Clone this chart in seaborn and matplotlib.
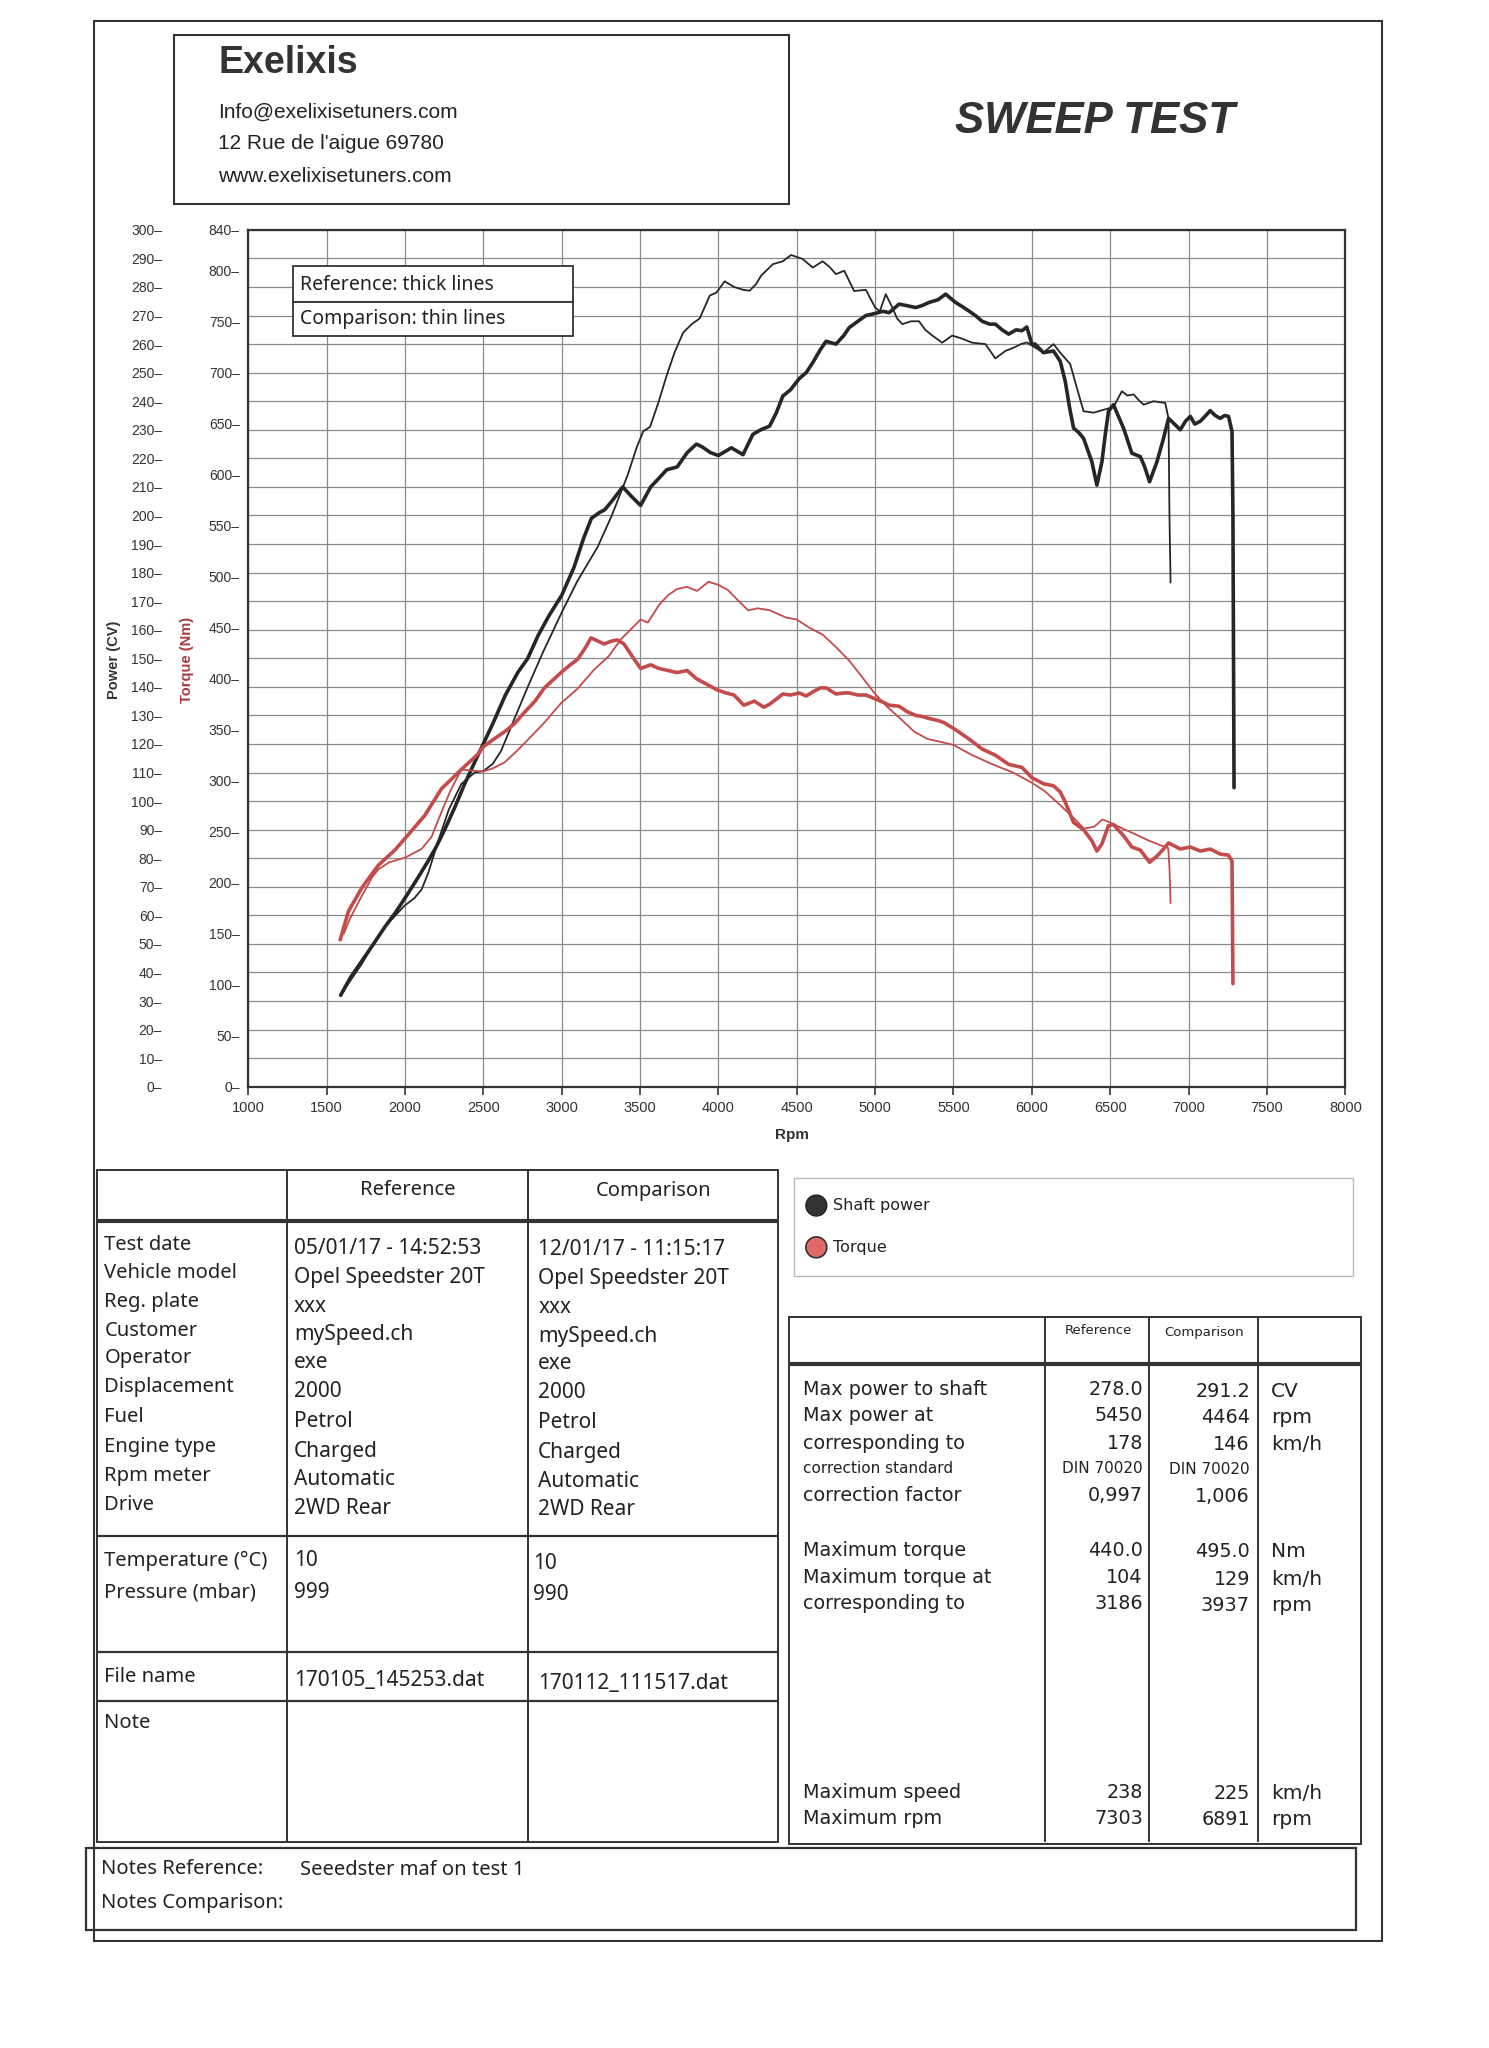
import matplotlib
matplotlib.use("Agg")
import matplotlib.pyplot as plt
from matplotlib.patches import Rectangle, Circle
import seaborn as sns

# ---- curves: rpm / value ----
ref_power_rpm = [1590, 1650, 1725, 1800, 1873, 1940, 2000, 2070, 2148, 2200, 2254, 2320, 2381, 2440, 2500,
                 2560, 2640, 2720, 2784, 2850, 2920, 3000, 3080, 3140, 3190, 3240, 3275, 3320, 3390, 3440,
                 3504, 3568, 3620, 3670, 3737, 3801, 3860, 3897, 3950, 4000, 4083, 4157, 4220, 4270, 4327,
                 4370, 4411, 4460, 4517, 4560, 4602, 4650, 4687, 4750, 4800, 4835, 4890, 4941, 5004, 5050,
                 5089, 5153, 5200, 5259, 5300, 5344, 5400, 5450, 5513, 5560, 5598, 5640, 5683, 5730, 5767,
                 5810, 5852, 5900, 5937, 5968, 6000, 6021, 6074, 6138, 6181, 6213, 6240, 6266, 6300, 6330,
                 6383, 6415, 6447, 6470, 6489, 6521, 6550, 6585, 6638, 6692, 6720, 6751, 6798, 6840, 6872,
                 6910, 6947, 6980, 7011, 7040, 7075, 7110, 7138, 7170, 7202, 7230, 7255, 7277, 7283, 7290]
ref_power_cv = [32, 38, 44, 50, 56, 61, 66, 72, 79, 84, 90, 98, 106, 113, 120,
                127, 137, 145, 150, 158, 165, 172, 182, 192, 199, 201, 202, 205, 210, 207,
                203.5, 210, 213, 216, 217, 222, 225, 224, 222, 221, 223.7, 221.3, 228.4, 230, 231.3,
                236, 241.8, 244, 248, 250, 253.5, 258, 261, 260, 263, 265.8, 268, 270, 270.8, 271.5,
                271, 274, 273.5, 272.8, 273.5, 274.6, 275.5, 277.5, 274.6, 273, 271.6, 270, 268, 267, 267,
                265, 263.5, 265, 264.7, 266, 260, 260, 257, 257.6, 254, 247, 238, 230.6, 229, 227,
                218.8, 210.6, 218.8, 229, 236.5, 238.8, 235, 230.6, 221.8, 220.6, 217, 211.8, 218.8, 227, 234,
                232, 230, 233, 234.7, 232, 233, 235, 236.7, 235, 234, 235, 234.7, 229.4, 200, 104.7]

cmp_power_rpm = [1590, 1650, 1725, 1800, 1873, 1940, 2000, 2060, 2106, 2150, 2212, 2280, 2360, 2445, 2500,
                 2560, 2614, 2700, 2784, 2880, 3000, 3100, 3230, 3320, 3420, 3480, 3521, 3564, 3620, 3670,
                 3720, 3775, 3830, 3881, 3945, 3987, 4040, 4100, 4160, 4199, 4240, 4273, 4348, 4411, 4464,
                 4538, 4602, 4665, 4710, 4750, 4803, 4866, 4941, 5000, 5030, 5068, 5090, 5110, 5140, 5174,
                 5230, 5280, 5320, 5365, 5428, 5492, 5550, 5619, 5704, 5767, 5831, 5894, 5930, 5968, 6021,
                 6074, 6138, 6181, 6245, 6287, 6330, 6394, 6457, 6521, 6574, 6610, 6649, 6680, 6713, 6777,
                 6851, 6872, 6878, 6885]
cmp_power_cv = [32, 37, 43, 50, 56, 60, 63.5, 66, 69, 75, 86, 97, 106, 110, 110.5,
                113, 117.6, 129, 140, 152, 166, 177, 189, 200, 214, 224, 229.5, 231, 240, 249,
                257, 264, 267, 269, 277, 278, 282, 280, 279, 278.7, 281, 284, 288, 289, 291.2,
                289.8, 286.8, 289, 287, 284.5, 285.7, 278.6, 279, 272.8, 271.5, 277.5, 275, 272.8, 269, 267,
                268, 268, 265, 263, 260.5, 263, 262, 260.5, 260, 255, 257.6, 259, 260, 260.6, 258.8,
                257, 260, 257, 253, 244.7, 236.5, 236, 237, 238, 243.5, 242, 242.4, 240.5, 238.8, 240,
                239.4, 234, 200, 176.5]

ref_torque_rpm = [1587, 1640, 1725, 1830, 1936, 2021, 2127, 2233, 2300, 2360, 2466, 2498, 2560, 2636, 2700,
                  2763, 2830, 2890, 2940, 2996, 3050, 3102, 3150, 3187, 3230, 3271, 3320, 3356, 3398, 3450,
                  3504, 3568, 3620, 3680, 3737, 3801, 3860, 3920, 3992, 4050, 4100, 4162, 4230, 4290, 4327,
                  4370, 4411, 4460, 4517, 4560, 4602, 4650, 4687, 4750, 4800, 4835, 4890, 4941, 5004, 5050,
                  5089, 5153, 5200, 5259, 5300, 5344, 5400, 5439, 5513, 5598, 5683, 5767, 5852, 5937, 6000,
                  6074, 6138, 6181, 6213, 6266, 6330, 6383, 6415, 6447, 6489, 6521, 6585, 6638, 6692, 6751,
                  6798, 6840, 6872, 6947, 7011, 7075, 7138, 7202, 7255, 7277, 7283]
ref_torque_nm = [144, 172, 195, 217, 232, 247, 266, 292, 302, 311, 326, 333, 340, 348, 356,
                 367, 378, 391, 398, 406, 413, 419, 430, 440, 437, 434, 437, 438, 434, 422,
                 410, 413.6, 410, 408, 406, 408, 400, 395, 389, 386, 384, 374, 378, 372, 375,
                 380, 385, 384, 386, 383, 387, 391, 391, 385, 386, 386, 384, 384, 380, 377,
                 374, 373, 368, 364, 363, 361, 359, 357, 350, 341, 331, 325, 316, 313, 303,
                 297, 295, 289, 279, 259, 252, 241, 231, 238, 256, 257, 246, 235, 232, 220,
                 226, 233, 239, 233, 235, 231, 233, 228, 227, 221, 101]

cmp_torque_rpm = [1610, 1650, 1725, 1790, 1830, 1900, 2000, 2106, 2170, 2230, 2290, 2360, 2420, 2498, 2560,
                  2636, 2700, 2784, 2890, 2996, 3100, 3208, 3300, 3380, 3420, 3504, 3550, 3620, 3680, 3737,
                  3800, 3864, 3937, 4000, 4060, 4130, 4190, 4250, 4330, 4430, 4500, 4580, 4667, 4750, 4833,
                  4900, 5000, 5080, 5167, 5250, 5333, 5420, 5500, 5620, 5750, 5880, 6000, 6080, 6167, 6250,
                  6333, 6400, 6450, 6500, 6580, 6667, 6750, 6833, 6870, 6878, 6885]
cmp_torque_nm = [150, 165, 187, 205, 213, 220, 224.5, 233, 245, 268, 290, 311, 310, 309, 312,
                 318, 327, 340, 357, 376, 390, 409, 422, 439, 445, 458, 455, 472, 482, 488,
                 490, 486, 495, 492, 487, 476, 467, 469, 467, 460, 458, 450, 443, 431, 418,
                 405, 385, 372, 360, 348, 341, 338, 335, 325, 316, 308, 298, 290, 278, 266,
                 253, 255, 262, 259, 253, 247, 241, 236, 234, 215, 180]

rpm_ticks = list(range(1000, 8001, 500))
power_ticks = list(range(0, 301, 10))
torque_ticks = list(range(0, 801, 50)) + [840]

# ---- sheet texts ----
info_labels = ["Test date", "Vehicle model", "Reg. plate", "Customer", "Operator", "Displacement",
               "Fuel", "Engine type", "Rpm meter", "Drive"]
info_ref = ["05/01/17 - 14:52:53", "Opel Speedster 20T", "xxx", "mySpeed.ch", "exe", "2000",
            "Petrol", "Charged", "Automatic", "2WD Rear"]
info_cmp = ["12/01/17 - 11:15:17", "Opel Speedster 20T", "xxx", "mySpeed.ch", "exe", "2000",
            "Petrol", "Charged", "Automatic", "2WD Rear"]
env_labels = ["Temperature (°C)", "Pressure (mbar)"]
env_ref = ["10", "999"]
env_cmp = ["10", "990"]
file_ref, file_cmp = "170105_145253.dat", "170112_111517.dat"

res_labels = ["Max power to shaft", "Max power at", "corresponding to", "correction standard",
              "correction factor", "Maximum torque", "Maximum torque at", "corresponding to",
              "Maximum speed", "Maximum rpm"]
res_ref = ["278.0", "5450", "178", "DIN 70020", "0,997", "440.0", "104", "3186", "238", "7303"]
res_cmp = ["291.2", "4464", "146", "DIN 70020", "1,006", "495.0", "129", "3937", "225", "6891"]
res_units = ["CV", "rpm", "km/h", "", "", "Nm", "km/h", "rpm", "km/h", "rpm"]
res_y = [1064, 1084, 1105, 1124, 1145, 1187, 1208, 1228, 1372, 1392]

BLACK = "#262626"
RED = "#c44b4b"
GRID = "#8a8a8a"
INK = "#222222"

sns.set_style("white")
plt.rcParams['font.family'] = ['Liberation Sans', 'DejaVu Sans']

W, H = 1140, 1568   # page layout grid
fig = plt.figure(figsize=(14.89, 20.48), dpi=100)


def box(x0, y0, x1, y1):
    return [x0 / W, 1 - y1 / H, (x1 - x0) / W, (y1 - y0) / H]


# ---- chart ----
ax = fig.add_axes(box(190, 176, 1030, 832))
ax.set_xlim(1000, 8000)
ax.set_ylim(0, 300)
ax.set_xticks(rpm_ticks)
ax.set_yticks(power_ticks)
ax.set_yticklabels([f"{v}\u2013" for v in power_ticks])
ax.grid(True, color=GRID, linewidth=0.9)
ax.set_axisbelow(True)
ax.tick_params(axis='y', length=0, pad=62, labelsize=10, labelcolor="#333333")
ax.tick_params(axis='x', length=6, width=1.2, direction='out', pad=4, labelsize=10.5,
               labelcolor="#333333", color="#333333", bottom=True)
for s in ax.spines.values():
    s.set_color("#333333")
    s.set_linewidth(1.6)

sns.lineplot(x=cmp_power_rpm, y=cmp_power_cv, ax=ax, color=BLACK, linewidth=1.3,
             sort=False, estimator=None)
sns.lineplot(x=ref_power_rpm, y=ref_power_cv, ax=ax, color=BLACK, linewidth=2.6,
             sort=False, estimator=None)

ax2 = ax.twinx()
ax2.set_ylim(0, 840)
ax2.yaxis.tick_left()
ax2.set_yticks(torque_ticks)
ax2.set_yticklabels([f"{v}\u2013" for v in torque_ticks])
ax2.tick_params(axis='y', length=0, pad=6, labelsize=10, labelcolor="#333333")
ax2.grid(False)
for s in ax2.spines.values():
    s.set_visible(False)

sns.lineplot(x=cmp_torque_rpm, y=cmp_torque_nm, ax=ax2, color=RED, linewidth=1.3,
             sort=False, estimator=None)
sns.lineplot(x=ref_torque_rpm, y=ref_torque_nm, ax=ax2, color=RED, linewidth=2.6,
             sort=False, estimator=None)
ax.set_xlabel("")
ax.set_ylabel("")
ax2.set_ylabel("")

# ---- page overlay ----
pg = fig.add_axes([0, 0, 1, 1], zorder=5)
pg.set_xlim(0, W)
pg.set_ylim(H, 0)
pg.axis('off')


def rect(x0, y0, x1, y1, lw=1.4, ec="#333333", fc="none"):
    pg.add_patch(Rectangle((x0, y0), x1 - x0, y1 - y0, fill=(fc != "none"), facecolor=fc,
                           edgecolor=ec, linewidth=lw))


def hline(y, x0, x1, lw=1.4, c="#333333"):
    pg.plot([x0, x1], [y, y], color=c, linewidth=lw, solid_capstyle='butt')


def vline(x, y0, y1, lw=1.4, c="#333333"):
    pg.plot([x, x], [y0, y1], color=c, linewidth=lw, solid_capstyle='butt')


# page border and header
rect(72, 16, 1058, 1486, lw=1.5)
rect(133, 27, 604, 156, lw=1.5)
pg.text(167, 48, "Exelixis", fontsize=27, fontweight='bold', color="#333333", va='center')
pg.text(167, 86, "Info@exelixisetuners.com", fontsize=15, color=INK, va='center')
pg.text(167, 110, "12 Rue de l'aigue 69780", fontsize=15, color=INK, va='center')
pg.text(167, 135, "www.exelixisetuners.com", fontsize=15, color=INK, va='center')
pg.text(838, 93, "SWEEP TEST", fontsize=31.5, fontweight='bold', fontstyle='italic',
        color="#333333", ha='center', va='center')

# axis titles
pg.text(87, 505, "Power (CV)", rotation=90, fontsize=10.5, fontweight='bold', color="#333333",
        ha='center', va='center')
pg.text(143, 505, "Torque (Nm)", rotation=90, fontsize=10.5, fontweight='bold', color="#a83a3a",
        ha='center', va='center')
pg.text(606, 869, "Rpm", fontsize=11, fontweight='bold', color="#333333", ha='center', va='center')

# line style legend in chart
TAB = ['Noto Sans', 'DejaVu Sans']
rect(224, 204, 439, 231, lw=1.3, fc="white")
rect(224, 231, 439, 257, lw=1.3, fc="white")
pg.text(230, 218, "Reference: thick lines", fontsize=14, family=TAB, va='center', color=INK)
pg.text(230, 244, "Comparison: thin lines", fontsize=14, family=TAB, va='center', color=INK)

# ---- left info table ----
rect(74, 896, 596, 1410, lw=1.4)
hline(935, 74, 596, lw=3.0)
vline(220, 896, 1410)
vline(404, 896, 1410)
hline(1176, 74, 596, lw=1.6)
hline(1265, 74, 596, lw=1.6)
hline(1302, 74, 596, lw=1.6)
pg.text(312, 911, "Reference", fontsize=14.5, family=TAB, ha='center', va='center', color=INK)
pg.text(500, 912, "Comparison", fontsize=14.5, family=TAB, ha='center', va='center', color=INK)
row_y = [953, 975, 997, 1019, 1040, 1062, 1085, 1108, 1130, 1152]
for y, lab, r, c in zip(row_y, info_labels, info_ref, info_cmp):
    pg.text(80, y, lab, fontsize=14.5, family=TAB, va='center', color=INK)
    pg.text(225, y + 3, r, fontsize=15, family=TAB, va='center', color=INK)
    pg.text(412, y + 4, c, fontsize=15, family=TAB, va='center', color=INK)
for y, lab, r, c in zip([1195, 1219], env_labels, env_ref, env_cmp):
    pg.text(80, y, lab, fontsize=14.5, family=TAB, va='center', color=INK)
    pg.text(225, y, r, fontsize=15, family=TAB, va='center', color=INK)
    pg.text(408, y + 2, c, fontsize=15, family=TAB, va='center', color=INK)
pg.text(80, 1284, "File name", fontsize=14.5, family=TAB, va='center', color=INK)
pg.text(225, 1287, file_ref, fontsize=15, family=TAB, va='center', color=INK)
pg.text(412, 1289, file_cmp, fontsize=15, family=TAB, va='center', color=INK)
pg.text(80, 1319, "Note", fontsize=14.5, family=TAB, va='center', color=INK)

# ---- colour legend ----
rect(608, 902, 1036, 977, lw=1.0, ec="#bbbbbb")
pg.add_patch(Circle((625, 923), 8, facecolor="#333333", edgecolor=INK, linewidth=1))
pg.add_patch(Circle((625, 955), 8, facecolor="#e06a6a", edgecolor="#333333", linewidth=1.2))
pg.text(638, 923, "Shaft power", fontsize=11.5, va='center', family=['DejaVu Sans'], color=INK)
pg.text(638, 955, "Torque", fontsize=11.5, va='center', family=['DejaVu Sans'], color=INK)

# ---- right results table ----
RES = ['DejaVu Sans']
rect(604, 1008, 1042, 1412, lw=1.4)
hline(1044, 604, 1042, lw=3.0)
for x in (800, 880, 963):
    vline(x, 1008, 1410)
pg.text(841, 1019, "Reference", fontsize=9.5, family=RES, ha='center', va='center', color=INK)
pg.text(922, 1020, "Comparison", fontsize=9.5, family=RES, ha='center', va='center', color=INK)
for y, lab, r, c, u in zip(res_y, res_labels, res_ref, res_cmp, res_units):
    fs = 11 if lab == "correction standard" else 13.8
    pg.text(615, y, lab, fontsize=fs, family=RES, va='center', color=INK)
    pg.text(875, y, r, fontsize=fs, family=RES, ha='right', va='center', color=INK)
    pg.text(957, y + 1, c, fontsize=fs, family=RES, ha='right', va='center', color=INK)
    if u:
        pg.text(973, y + 1, u, fontsize=14.5, family=RES, va='center', color=INK)

# ---- notes ----
rect(66, 1415, 1038, 1478, lw=1.6)
pg.text(77, 1431, "Notes Reference:", fontsize=14.5, family=TAB, va='center', color=INK)
pg.text(230, 1432, "Seeedster maf on test 1", fontsize=14.5, family=TAB, va='center', color=INK)
pg.text(77, 1457, "Notes Comparison:", fontsize=14.5, family=TAB, va='center', color=INK)

fig.savefig("out.png", dpi=100, facecolor="white")
